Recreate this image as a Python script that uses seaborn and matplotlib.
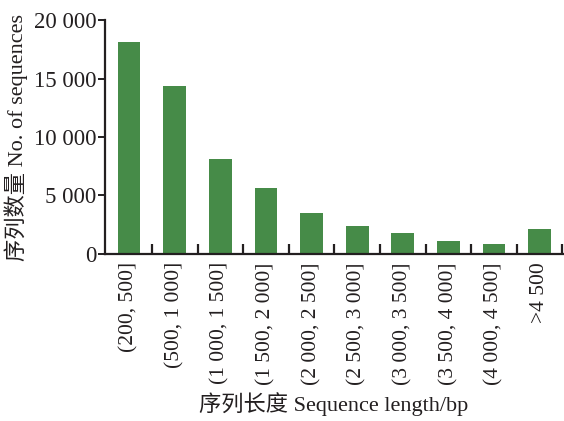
import matplotlib
matplotlib.use("Agg")
import matplotlib.pyplot as plt
from matplotlib.ticker import FuncFormatter
import seaborn as sns

# Length bins and number of assembled sequences in each bin
categories = ["(200, 500]", "(500, 1 000]", "(1 000, 1 500]", "(1 500, 2 000]",
              "(2 000, 2 500]", "(2 500, 3 000]", "(3 000, 3 500]", "(3 500, 4 000]",
              "(4 000, 4 500]", ">4 500"]
counts = [18100, 14350, 8130, 5640, 3500, 2370, 1800, 1130, 810, 2170]
y_ticks = [0, 5000, 10000, 15000, 20000]

sns.set_theme(style="white")
plt.rcParams["font.family"] = ["Liberation Serif", "Noto Sans CJK SC"]

fig = plt.figure(figsize=(5.64, 4.21), dpi=100)
ax = fig.add_axes([0.186, 0.397, 0.812, 0.555])

sns.barplot(x=categories, y=counts, color="#468b48", saturation=1, width=0.5,
            edgecolor="none", ax=ax)

ax.set_xlim(-0.53, 9.51)
ax.set_ylim(0, 20000)
ax.set_yticks(y_ticks)
ax.yaxis.set_major_formatter(FuncFormatter(
    lambda v, p: f"{int(v):,}".replace(",", " ")))

# category labels sit under bars; tick marks sit at the bin boundaries
ax.set_xticks(range(len(categories)))
ax.set_xticklabels(categories, rotation=90, va="top", ha="center")
ax.set_xticks([i + 0.5 for i in range(len(categories))], minor=True)
ax.tick_params(axis="x", which="major", length=0, pad=6, labelsize=15.5,
               colors="#231f20")
ax.tick_params(axis="x", which="minor", direction="in", length=7, width=1.6,
               color="#231f20", bottom=True)
ax.tick_params(axis="y", direction="out", length=5, width=1.4, pad=1,
               labelsize=16.5, colors="#231f20", left=True)

for side in ["top", "right"]:
    ax.spines[side].set_visible(False)
for side in ["left", "bottom"]:
    ax.spines[side].set_color("#231f20")
    ax.spines[side].set_linewidth(1.6)

ax.set_xlabel("序列长度 Sequence length/bp", fontsize=16, color="#231f20",
              labelpad=5)
ax.set_ylabel("序列数量 No. of sequences", fontsize=16, color="#231f20",
              labelpad=4)

fig.savefig("out.png", dpi=100)
